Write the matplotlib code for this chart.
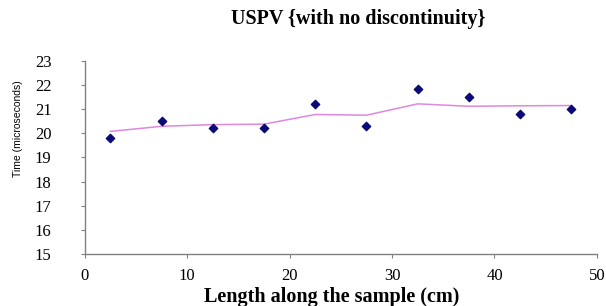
import numpy as np
import matplotlib

matplotlib.use("Agg")
import matplotlib.pyplot as plt

# data
length_cm = [2.5, 7.5, 12.5, 17.5, 22.5, 27.5, 32.5, 37.5, 42.5, 47.5]
time_us = [19.8, 20.5, 20.22, 20.22, 21.2, 20.3, 21.85, 21.5, 20.8, 21.0]
trend_us = [20.08, 20.29, 20.36, 20.38, 20.78, 20.75, 21.22, 21.12, 21.14, 21.15]

x_ticks = [0, 10, 20, 30, 40, 50]
y_ticks = [15, 16, 17, 18, 19, 20, 21, 22, 23]

fig = plt.figure(figsize=(6.06, 3.06), dpi=100)
ax = fig.add_axes([0.140, 0.170, 0.845, 0.631])

ax.plot(length_cm, trend_us, color="#de88de", lw=1.1, zorder=2)
ax.scatter(length_cm, time_us, marker="D", s=18, color="#0a0a78", zorder=3)

ax.set_xlim(0, 50)
ax.set_ylim(15, 23)
ax.set_xticks(x_ticks)
ax.set_yticks(y_ticks)
ax.tick_params(labelsize=12, length=3, color="#808080", width=0.8)
ax.tick_params(axis="y", pad=21)
ax.tick_params(axis="x", pad=7)
for lab in ax.get_xticklabels() + ax.get_yticklabels():
    lab.set_fontfamily("Liberation Serif")
for side in ("top", "right"):
    ax.spines[side].set_visible(False)
for side in ("left", "bottom"):
    ax.spines[side].set_color("#808080")
    ax.spines[side].set_linewidth(1.0)

ax.set_ylabel("Time (microseconds)", fontsize=7.5, fontfamily="Liberation Sans")
ax.yaxis.set_label_coords((23 - 85) / 512, 0.65)
ax.set_xlabel("Length along the sample (cm)", fontsize=14.5, fontweight="bold",
              fontfamily="Liberation Serif", va="center")
ax.xaxis.set_label_coords((332 - 85) / 512, (254 - 297) / 193)
fig.text(358 / 606, 1 - 19 / 306, "USPV {with no discontinuity}", ha="center", va="center",
         fontsize=14.5, fontweight="bold", fontfamily="Liberation Serif")

fig.savefig("out.png", dpi=100)
